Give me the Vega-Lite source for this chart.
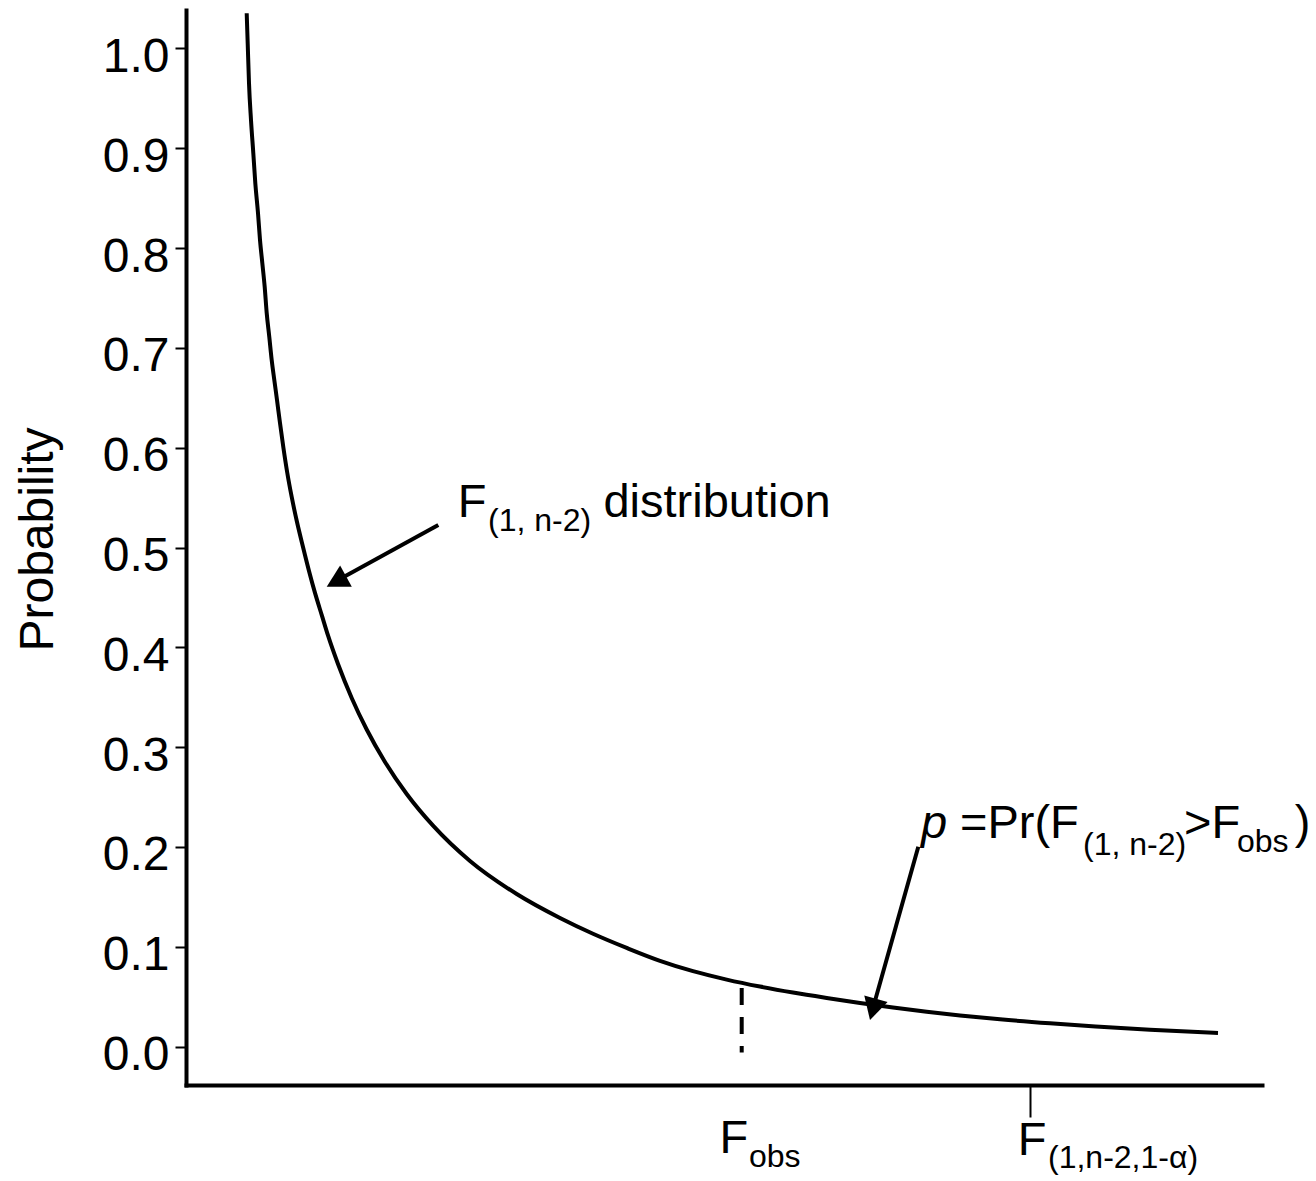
{
  "$schema": "https://vega.github.io/schema/vega-lite/v6.json",
  "width": 1076,
  "height": 1075,
  "autosize": {"type": "none"},
  "padding": {"left": 186, "top": 10, "right": 54, "bottom": 96},
  "background": "white",
  "config": {"view": {"stroke": null}, "font": "Liberation Sans"},
  "datasets": {
    "curve": [
      {"x": 0.3035, "y": 1.0351}, {"x": 0.3085, "y": 1.0050}, {"x": 0.315, "y": 0.9652},
      {"x": 0.325, "y": 0.9282}, {"x": 0.3365, "y": 0.8951}, {"x": 0.3465, "y": 0.8651},
      {"x": 0.36, "y": 0.8350}, {"x": 0.37, "y": 0.8080}, {"x": 0.3815, "y": 0.7850},
      {"x": 0.3935, "y": 0.7609}, {"x": 0.4035, "y": 0.7349}, {"x": 0.4165, "y": 0.7108},
      {"x": 0.4285, "y": 0.6878}, {"x": 0.4415, "y": 0.6678}, {"x": 0.455, "y": 0.6477},
      {"x": 0.47, "y": 0.6247}, {"x": 0.4865, "y": 0.6007}, {"x": 0.5065, "y": 0.5746},
      {"x": 0.5285, "y": 0.5506}, {"x": 0.555, "y": 0.5255}, {"x": 0.585, "y": 0.5005},
      {"x": 0.615, "y": 0.4765}, {"x": 0.645, "y": 0.4545}, {"x": 0.68, "y": 0.4315},
      {"x": 0.71, "y": 0.4119}, {"x": 0.76, "y": 0.3833}, {"x": 0.8285, "y": 0.3493},
      {"x": 0.9035, "y": 0.3177}, {"x": 0.995, "y": 0.2852}, {"x": 1.1035, "y": 0.2531},
      {"x": 1.2365, "y": 0.2211}, {"x": 1.42, "y": 0.1860}, {"x": 1.6535, "y": 0.1529},
      {"x": 1.87, "y": 0.1289}, {"x": 2.035, "y": 0.1131}, {"x": 2.2035, "y": 0.0989},
      {"x": 2.37, "y": 0.0860}, {"x": 2.535, "y": 0.0756}, {"x": 2.7035, "y": 0.0672},
      {"x": 2.87, "y": 0.0602}, {"x": 3.035, "y": 0.0542}, {"x": 3.2035, "y": 0.0488},
      {"x": 3.37, "y": 0.0438}, {"x": 3.535, "y": 0.0392}, {"x": 3.7035, "y": 0.0350},
      {"x": 3.87, "y": 0.0313}, {"x": 4.07, "y": 0.0274}, {"x": 4.32, "y": 0.0234},
      {"x": 4.57, "y": 0.0200}, {"x": 4.82, "y": 0.0169}, {"x": 5.16, "y": 0.0137}
    ],
    "dashed": [{"x": 2.7785, "y": 0.0588, "y2": -0.0058}],
    "arrows": [
      {"x": 1.2615, "y": 0.5225, "x2": 0.77, "y2": 0.4684},
      {"x": 3.6615, "y": 0.2003, "x2": 3.435, "y2": 0.0388}
    ],
    "bigtext": [
      {"x": 1.359, "y": 0.5309, "label": "F"},
      {"x": 2.087, "y": 0.5309, "label": "distribution"},
      {"x": 3.87, "y": 0.2087, "label": "=Pr(F"},
      {"x": 4.99, "y": 0.2087, "label": ">F"},
      {"x": 5.544, "y": 0.2087, "label": ")"},
      {"x": 2.667, "y": -0.1068, "label": "F"},
      {"x": 4.159, "y": -0.1085, "label": "F"}
    ],
    "subtext": [
      {"x": 1.51, "y": 0.5162, "label": "(1, n-2)"},
      {"x": 4.485, "y": 0.192, "label": "(1, n-2)"},
      {"x": 5.255, "y": 0.1953, "label": "obs"},
      {"x": 2.815, "y": -0.1202, "label": "obs"},
      {"x": 4.31, "y": -0.1218, "label": "(1,n-2,1-α)"}
    ],
    "italic": [{"x": 3.675, "y": 0.2087, "label": "p"}]
  },
  "encoding": {
    "x": {
      "field": "x", "type": "quantitative",
      "scale": {"domain": [0, 5.38], "nice": false, "zero": false},
      "axis": {
        "values": [4.22], "labels": false, "title": null, "grid": false,
        "domainColor": "black", "domainWidth": 4, "domainCap": "square",
        "tickColor": "black", "tickWidth": 2, "tickSize": 32
      }
    },
    "y": {
      "field": "y", "type": "quantitative",
      "scale": {"domain": [-0.0384, 1.0384], "nice": false, "zero": false},
      "axis": {
        "values": [0, 0.1, 0.2, 0.3, 0.4, 0.5, 0.6, 0.7, 0.8, 0.9, 1.0],
        "format": ".1f", "title": "Probability", "grid": false,
        "domainColor": "black", "domainWidth": 4, "domainCap": "square",
        "tickColor": "black", "tickWidth": 2, "tickSize": 11,
        "labelFont": "Liberation Sans", "labelFontSize": 48, "labelColor": "black",
        "labelPadding": 6, "labelOffset": 9,
        "titleFont": "Liberation Sans", "titleFontSize": 48, "titleFontWeight": "normal",
        "titleColor": "black", "titleX": -134, "titleY": 529,
        "titleBaseline": "alphabetic", "titleAlign": "center", "titleAngle": -90
      }
    }
  },
  "layer": [
    {"data": {"name": "curve"}, "mark": {"type": "line", "color": "black", "strokeWidth": 4, "interpolate": "monotone"}},
    {"data": {"name": "dashed"}, "mark": {"type": "rule", "color": "black", "strokeWidth": 4, "strokeDash": [17, 12]}, "encoding": {"y2": {"field": "y2"}}},
    {"data": {"name": "arrows"}, "mark": {"type": "rule", "color": "black", "strokeWidth": 4}, "encoding": {"x2": {"field": "x2"}, "y2": {"field": "y2"}}},
    {"data": {"values": [{"x": 0.7035, "y": 0.4607}]}, "mark": {"type": "point", "shape": "M0,0L-1.1,2L1.1,2Z", "size": 484, "angle": 241.1, "filled": true, "color": "black", "opacity": 1, "strokeWidth": 0}},
    {"data": {"values": [{"x": 3.42, "y": 0.0267}]}, "mark": {"type": "point", "shape": "M0,0L-1.1,2L1.1,2Z", "size": 484, "angle": 195.6, "filled": true, "color": "black", "opacity": 1, "strokeWidth": 0}},
    {"data": {"name": "bigtext"}, "mark": {"type": "text", "align": "left", "baseline": "alphabetic", "font": "Liberation Sans", "fontSize": 47, "color": "black"}, "encoding": {"text": {"field": "label"}}},
    {"data": {"name": "subtext"}, "mark": {"type": "text", "align": "left", "baseline": "alphabetic", "font": "Liberation Sans", "fontSize": 32, "color": "black"}, "encoding": {"text": {"field": "label"}}},
    {"data": {"name": "italic"}, "mark": {"type": "text", "align": "left", "baseline": "alphabetic", "font": "Liberation Sans", "fontStyle": "italic", "fontSize": 47, "color": "black"}, "encoding": {"text": {"field": "label"}}}
  ]
}
